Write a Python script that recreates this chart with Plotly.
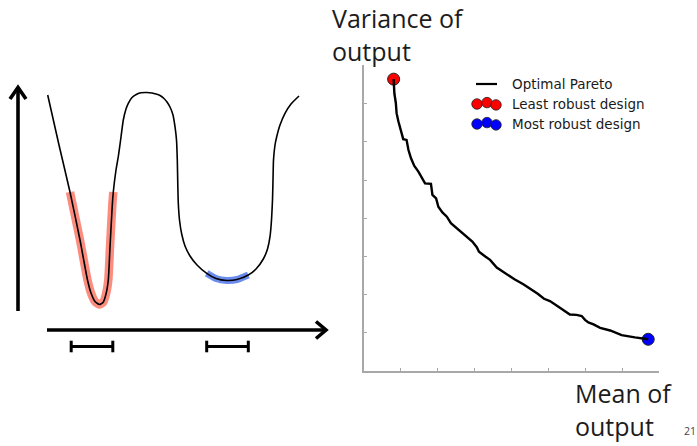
import plotly.graph_objects as go

# ---------------- Pareto front data (mean of output, variance of output) ----------------
pareto_mean = [0.81, 0.83, 0.87, 0.89, 0.94, 0.99, 1.04, 1.07, 1.16, 1.21, 1.28, 1.37, 1.48,
               1.57, 1.66, 1.82, 1.86, 1.96, 2.02, 2.13, 2.25, 2.36, 2.56, 2.74, 2.94, 3.06,
               3.12, 3.30, 3.42, 3.60, 3.82, 4.08, 4.32, 4.50, 4.71, 4.88, 5.04, 5.27, 5.40,
               5.58, 5.76, 5.90, 5.99, 6.08, 6.22, 6.40, 6.67, 6.98, 7.34, 7.70]
pareto_var = [7.64, 7.27, 7.01, 6.75, 6.53, 6.35, 6.22, 6.07, 6.05, 5.79, 5.57, 5.37, 5.22,
              5.07, 4.91, 4.90, 4.61, 4.52, 4.30, 4.15, 4.04, 3.87, 3.71, 3.56, 3.39, 3.24,
              3.12, 2.99, 2.91, 2.71, 2.56, 2.40, 2.27, 2.16, 2.02, 1.89, 1.83, 1.68, 1.59,
              1.48, 1.47, 1.44, 1.34, 1.27, 1.22, 1.13, 1.06, 0.94, 0.88, 0.83]
least_robust = (0.81, 7.64)
most_robust = (7.70, 0.83)
axis_ticks = [0, 1, 2, 3, 4, 5, 6, 7, 8]

legend_labels = ["Optimal Pareto", "Least robust design", "Most robust design"]
y_title = "Variance of<br>output"
x_title = "Mean of<br>output"
page_number = "21"

# ---------------- Schematic (left panel) data, in drawing units ----------------
curve_x = [47.7, 59, 70, 80, 87.5, 91, 95, 99.3, 103, 106, 108.3, 110, 112.3, 113.3, 116,
           118.3, 121, 123.3, 126, 128.3, 132, 136.7, 141, 146.7, 152, 156, 160, 164, 167,
           170, 173, 175, 176.5, 177.3, 177.8, 178.3, 179.5, 181.7, 185, 190, 197, 206.7,
           216, 226.7, 237, 248.3, 256, 263.3, 267.5, 270, 271.5, 272.5, 273, 273.5, 275,
           276.7, 280, 285, 291, 299]
curve_y = [95, 145, 192, 240, 280, 293, 301.5, 304.5, 302.5, 294, 280, 247, 205, 192, 170,
           156.7, 137, 120, 109, 103.3, 97.5, 94.3, 92.8, 92.5, 93, 94, 95.5, 98.5, 102,
           107, 115, 126.7, 140, 160, 185, 203.3, 220, 234, 246, 256, 265, 273.3, 278.5,
           280.5, 279.5, 275, 269, 259, 249, 236.7, 220, 200, 180, 160, 145, 136.7, 125,
           113.3, 104, 96]
narrow_idx = (2, 13)   # narrow valley segment (least robust)
wide_idx = (41, 45)    # wide valley segment (most robust)

yarrow_x = [18, 18]
yarrow_y = [311, 88]
yhead_x = [10, 18, 26]
yhead_y = [99, 87.5, 99]
xarrow_x = [47, 325]
xarrow_y = [330, 330]
xhead_x = [316, 326, 316]
xhead_y = [321.5, 330, 338.5]
bar_centers = [92, 227.5]
bar_half = 20.8
bar_y = 346.5
cap_half = 5.8

fig = go.Figure()

W, H = 697, 446

def seg(i0, i1):
    return curve_x[i0:i1 + 1], curve_y[i0:i1 + 1]

sx, sy = seg(*narrow_idx)
fig.add_trace(go.Scatter(x=sx, y=sy, mode="lines", xaxis="x2", yaxis="y2",
                         line=dict(color="rgba(250,115,98,0.82)", width=8.5, shape="spline", smoothing=0.5),
                         hoverinfo="skip", showlegend=False))
sx, sy = seg(*wide_idx)
fig.add_trace(go.Scatter(x=sx, y=sy, mode="lines", xaxis="x2", yaxis="y2",
                         line=dict(color="rgba(70,110,232,0.8)", width=7, shape="spline", smoothing=0.5),
                         hoverinfo="skip", showlegend=False))
fig.add_trace(go.Scatter(x=curve_x, y=curve_y, mode="lines", xaxis="x2", yaxis="y2",
                         line=dict(color="black", width=1.6, shape="spline", smoothing=0.5),
                         hoverinfo="skip", showlegend=False))

for xs, ys in [(yarrow_x, yarrow_y), (yhead_x, yhead_y), (xarrow_x, xarrow_y), (xhead_x, xhead_y)]:
    fig.add_trace(go.Scatter(x=xs, y=ys, mode="lines", xaxis="x2", yaxis="y2",
                             line=dict(color="black", width=3.6),
                             hoverinfo="skip", showlegend=False))

for c in bar_centers:
    bx = [c - bar_half, c - bar_half, None, c - bar_half, c + bar_half, None, c + bar_half, c + bar_half]
    by = [bar_y - cap_half, bar_y + cap_half, None, bar_y, bar_y, None, bar_y - cap_half, bar_y + cap_half]
    fig.add_trace(go.Scatter(x=bx, y=by, mode="lines", xaxis="x2", yaxis="y2",
                             line=dict(color="black", width=3),
                             hoverinfo="skip", showlegend=False))

# ---------------- Pareto chart ----------------
fig.add_trace(go.Scatter(x=[least_robust[0]], y=[least_robust[1]], mode="markers",
                         marker=dict(color="#ff0000", size=12, line=dict(color="#222", width=1)),
                         hoverinfo="skip", showlegend=False))
fig.add_trace(go.Scatter(x=[most_robust[0]], y=[most_robust[1]], mode="markers",
                         marker=dict(color="#0000ff", size=12, line=dict(color="#222", width=1)),
                         hoverinfo="skip", showlegend=False))
fig.add_trace(go.Scatter(x=pareto_mean, y=pareto_var, mode="lines",
                         line=dict(color="black", width=2.4),
                         hoverinfo="skip", showlegend=False))

# hand-made legend (matplotlib style, three scatter points per entry)
leg_x0 = 476
leg_rows = [84, 104, 124]
fig.add_trace(go.Scatter(x=[leg_x0, leg_x0 + 21], y=[leg_rows[0]] * 2, mode="lines",
                         xaxis="x2", yaxis="y2", line=dict(color="black", width=2.2),
                         hoverinfo="skip", showlegend=False))
for row, col in [(leg_rows[1], "#ff0000"), (leg_rows[2], "#0000ff")]:
    fig.add_trace(go.Scatter(x=[leg_x0 + 1, leg_x0 + 11, leg_x0 + 20], y=[row, row - 1.4, row + 0.9],
                             mode="markers", xaxis="x2", yaxis="y2",
                             marker=dict(color=col, size=10.5, line=dict(color="#222", width=0.8)),
                             hoverinfo="skip", showlegend=False))

annotations = []
for lab, row in zip(legend_labels, leg_rows):
    annotations.append(dict(x=510, y=row, xref="x2", yref="y2", text=lab, showarrow=False,
                            xanchor="left", yanchor="middle",
                            font=dict(family="DejaVu Sans", size=13.5, color="#1a1a1a")))

big = dict(family="Open Sans", size=25, color="#1c1c1c")
annotations.append(dict(x=330, y=34, xref="x2", yref="y2", text=y_title, showarrow=False,
                        xanchor="left", yanchor="middle", align="left", font=big))
annotations.append(dict(x=573, y=409.5, xref="x2", yref="y2", text=x_title, showarrow=False,
                        xanchor="left", yanchor="middle", align="left", font=big))
annotations.append(dict(x=682, y=431, xref="x2", yref="y2", text=page_number, showarrow=False,
                        xanchor="left", yanchor="middle",
                        font=dict(family="Open Sans", size=10.5, color="#444")))

x_px0, x_px1 = 363.7, 659.3
y_px0, y_px1 = 371, 65.4
axis_style = dict(range=[0, 8], tickvals=axis_ticks, ticks="inside", ticklen=3, tickwidth=1,
                  tickcolor="#a8a8a8", showticklabels=False, showgrid=False, zeroline=False,
                  showline=True, linecolor="#a8a8a8", linewidth=1.6, mirror=False, fixedrange=True)

fig.update_layout(
    width=W, height=H,
    margin=dict(l=0, r=0, t=0, b=0),
    paper_bgcolor="white", plot_bgcolor="rgba(0,0,0,0)",
    showlegend=False,
    xaxis=dict(domain=[x_px0 / W, x_px1 / W], anchor="y", **axis_style),
    yaxis=dict(domain=[(H - y_px0) / H, (H - y_px1) / H], anchor="x", **axis_style),
    xaxis2=dict(domain=[0, 1], range=[0, W], visible=False, fixedrange=True, anchor="y2"),
    yaxis2=dict(domain=[0, 1], range=[H, 0], visible=False, fixedrange=True, anchor="x2"),
    annotations=annotations,
)

fig.write_html("out.html", config={"displayModeBar": False},
               post_script="document.body.style.margin='0';document.body.style.overflow='hidden';")
